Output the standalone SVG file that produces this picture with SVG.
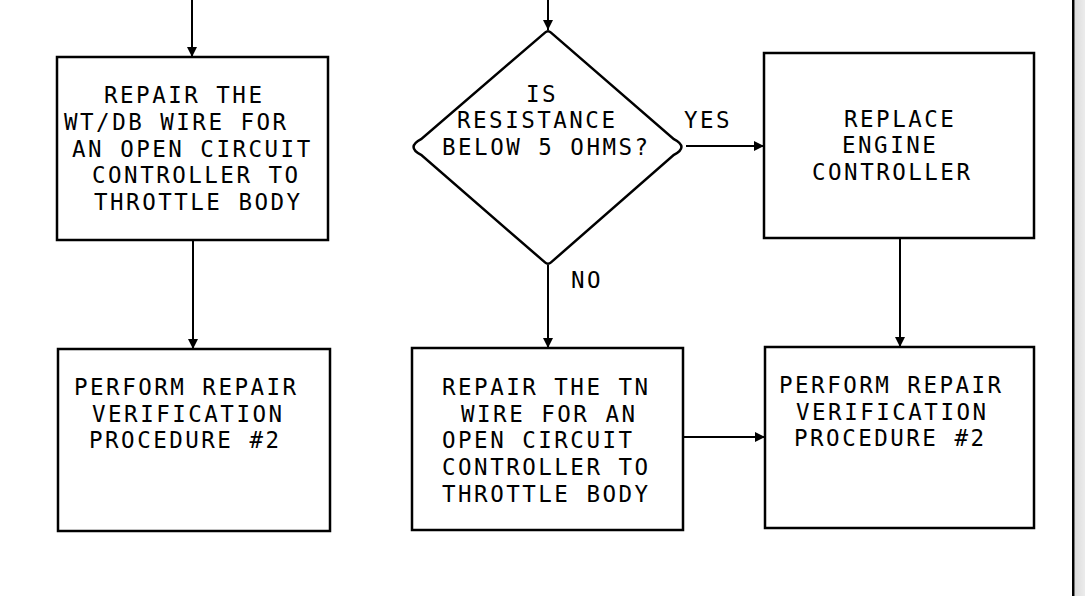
<svg xmlns="http://www.w3.org/2000/svg" width="1085" height="596" viewBox="0 0 1085 596">
<style>
.box{fill:#fff;stroke:#000;stroke-width:2.5}
.t{font-family:"DejaVu Sans Mono","Liberation Mono",monospace;font-size:22.5px;letter-spacing:2.5px;fill:#000}
.c{fill:none;stroke:#000;stroke-width:2}
</style>
<defs>
<marker id="ah" viewBox="0 0 10 10" refX="10" refY="5" markerWidth="11" markerHeight="10" markerUnits="userSpaceOnUse" orient="auto">
<path d="M0,0 L10,5 L0,10 Z" fill="#000"/>
</marker>
<linearGradient id="sh" x1="0" x2="1" y1="0" y2="0">
<stop offset="0" stop-color="#dcdcdc"/>
<stop offset="1" stop-color="#ececec"/>
</linearGradient>
</defs>
<rect x="0" y="0" width="1085" height="596" fill="#fff"/>
<rect x="1074.5" y="0" width="10.5" height="596" fill="url(#sh)"/>
<rect x="1072" y="0" width="2.5" height="596" fill="#000"/>

<g id="connectors">
<line class="c" x1="192" y1="0" x2="192" y2="57" marker-end="url(#ah)"/>
<line class="c" x1="193" y1="240" x2="193" y2="349" marker-end="url(#ah)"/>
<line class="c" x1="548" y1="0" x2="548" y2="30" marker-end="url(#ah)"/>
<line class="c" x1="686" y1="146" x2="764" y2="146" marker-end="url(#ah)"/>
<line class="c" x1="548" y1="265" x2="548" y2="348" marker-end="url(#ah)"/>
<line class="c" x1="900" y1="238" x2="900" y2="347" marker-end="url(#ah)"/>
<line class="c" x1="683" y1="437" x2="765" y2="437" marker-end="url(#ah)"/>
</g>

<g id="box1">
<rect class="box" x="57" y="57" width="271" height="183"/>
<text class="t" x="104" y="103">REPAIR THE</text>
<text class="t" x="64" y="130">WT/DB WIRE FOR</text>
<text class="t" x="72" y="157">AN OPEN CIRCUIT</text>
<text class="t" x="92" y="183">CONTROLLER TO</text>
<text class="t" x="94" y="210">THROTTLE BODY</text>
</g>

<g id="decision">
<path class="box" d="M545,32.6 Q548,30 551,32.6 L673.9,139.1 Q689,147 673.9,154.9 L551,262.4 Q548,265 545,262.4 L421.1,154.9 Q406,147 421.1,139.1 Z"/>
<text class="t" x="526" y="102">IS</text>
<text class="t" x="457" y="128">RESISTANCE</text>
<text class="t" x="442" y="155">BELOW 5 OHMS?</text>
</g>
<text class="t" x="684" y="128">YES</text>
<text class="t" x="571" y="288">NO</text>

<g id="box3">
<rect class="box" x="764" y="53" width="270" height="185"/>
<text class="t" x="844" y="127">REPLACE</text>
<text class="t" x="842" y="153">ENGINE</text>
<text class="t" x="812" y="180">CONTROLLER</text>
</g>

<g id="box4">
<rect class="box" x="58" y="349" width="272" height="182"/>
<text class="t" x="74" y="395">PERFORM REPAIR</text>
<text class="t" x="92" y="422">VERIFICATION</text>
<text class="t" x="89" y="448">PROCEDURE #2</text>
</g>

<g id="box5">
<rect class="box" x="412" y="348" width="271" height="182"/>
<text class="t" x="442" y="395">REPAIR THE TN</text>
<text class="t" x="461" y="422">WIRE FOR AN</text>
<text class="t" x="442" y="448">OPEN CIRCUIT</text>
<text class="t" x="442" y="475">CONTROLLER TO</text>
<text class="t" x="442" y="502">THROTTLE BODY</text>
</g>

<g id="box6">
<rect class="box" x="765" y="347" width="269" height="181"/>
<text class="t" x="779" y="393">PERFORM REPAIR</text>
<text class="t" x="796" y="420">VERIFICATION</text>
<text class="t" x="794" y="446">PROCEDURE #2</text>
</g>
</svg>
